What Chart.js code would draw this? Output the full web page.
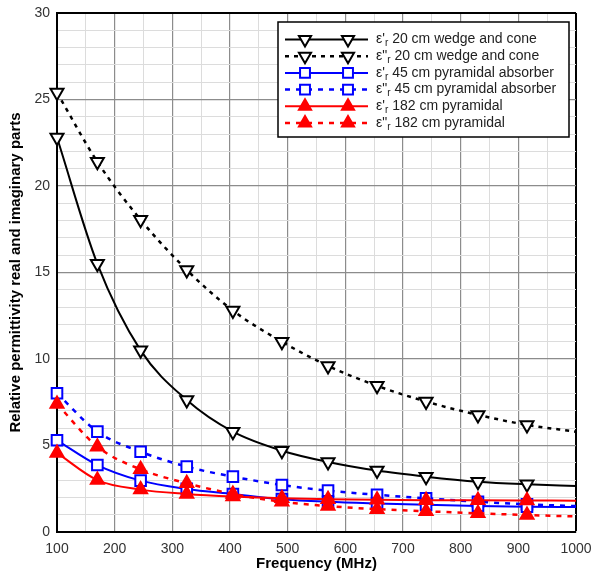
<!DOCTYPE html>
<html>
<head>
<meta charset="utf-8">
<script src="https://cdn.jsdelivr.net/npm/chart.js@4.4.1/dist/chart.umd.min.js"></script>
<style>
  html, body { margin: 0; padding: 0; background: #fff; }
</style>
</head>
<body>
<canvas id="permChart" width="592" height="579"></canvas>
<script>
// frequencies (MHz) of the markers, plus the end of the fitted curves
const freqs = [100, 170, 245, 325, 405, 490, 570, 655, 740, 830, 915, 1000];

const epsRealWedge   = [22.8, 15.5, 10.5, 7.63, 5.8, 4.7, 4.05, 3.55, 3.2, 2.91, 2.76, 2.66];
const epsImagWedge   = [25.4, 21.4, 18.05, 15.15, 12.8, 11.0, 9.6, 8.45, 7.54, 6.77, 6.19, 5.8];
const epsRealPyr45   = [5.3, 3.87, 2.97, 2.49, 2.2, 1.9, 1.75, 1.65, 1.57, 1.5, 1.46, 1.44];
const epsImagPyr45   = [8.02, 5.8, 4.64, 3.78, 3.2, 2.72, 2.39, 2.15, 1.95, 1.75, 1.6, 1.5];
const epsRealPyr182  = [4.57, 3.0, 2.45, 2.2, 2.05, 1.95, 1.9, 1.86, 1.84, 1.83, 1.82, 1.81];
const epsImagPyr182  = [7.4, 4.93, 3.62, 2.82, 2.2, 1.75, 1.5, 1.32, 1.2, 1.08, 0.98, 0.9];

const xTicks = [100, 200, 300, 400, 500, 600, 700, 800, 900, 1000];
const yTicks = [0, 5, 10, 15, 20, 25, 30];

const FONT = "'Liberation Sans', Arial, sans-serif";

function pts(values) {
  return freqs.map((f, i) => ({ x: f, y: values[i] }));
}
// no marker on the curve end point
const markerSize = r => ctx => (ctx.raw && ctx.raw.x === 1000 ? 0 : r);

function makeSet(label, values, color, dash, style, fill, order) {
  return {
    label: label,
    data: pts(values),
    borderColor: color,
    borderWidth: dash.length ? 2.5 : 2,
    borderDash: dash,
    pointStyle: style,
    pointRotation: style === 'triangle' && fill === '#fff' ? 180 : 0,
    pointRadius: markerSize(7.5),
    pointHoverRadius: markerSize(7.5),
    pointBackgroundColor: fill,
    pointBorderColor: color,
    pointBorderWidth: 2,
    cubicInterpolationMode: 'monotone',
    clip: false,
    order: order
  };
}

const datasets = [
  makeSet(["ε'", ' 20 cm wedge and cone'], epsRealWedge, '#000', [], 'triangle', '#fff', 3),
  makeSet(['ε"', ' 20 cm wedge and cone'], epsImagWedge, '#000', [4, 5], 'triangle', '#fff', 3),
  makeSet(["ε'", ' 45 cm pyramidal absorber'], epsRealPyr45, '#0000ff', [], 'rect', '#fff', 2),
  makeSet(['ε"', ' 45 cm pyramidal absorber'], epsImagPyr45, '#0000ff', [5, 6], 'rect', '#fff', 2),
  makeSet(["ε'", ' 182 cm pyramidal'], epsRealPyr182, '#ff0000', [], 'triangle', '#ff0000', 1),
  makeSet(['ε"', ' 182 cm pyramidal'], epsImagPyr182, '#ff0000', [5, 6], 'triangle', '#ff0000', 1)
];

// ── legend: line sample with two markers, boxed ──
const boxLegend = {
  id: 'boxLegend',
  afterDraw(chart) {
    const ctx = chart.ctx;
    const x0 = 278, y0 = 22, w = 291, h = 115;
    ctx.save();
    ctx.fillStyle = '#fff';
    ctx.fillRect(x0, y0, w, h);
    ctx.strokeStyle = '#000';
    ctx.lineWidth = 1.5;
    ctx.strokeRect(x0, y0, w, h);

    chart.data.datasets.forEach((ds, i) => {
      const y = y0 + 17.5 + i * 16.7;
      ctx.strokeStyle = ds.borderColor;
      ctx.lineWidth = ds.borderWidth;
      ctx.setLineDash(ds.borderDash);
      ctx.beginPath();
      ctx.moveTo(285, y);
      ctx.lineTo(368, y);
      ctx.stroke();
      ctx.setLineDash([]);

      ctx.fillStyle = ds.pointBackgroundColor;
      ctx.strokeStyle = ds.pointBorderColor;
      ctx.lineWidth = ds.pointBorderWidth;
      [305, 348].forEach(px => {
        Chart.helpers.drawPoint(ctx, {
          pointStyle: ds.pointStyle, rotation: ds.pointRotation,
          radius: 7, borderWidth: ds.pointBorderWidth
        }, px, y);
      });

      // ε' / ε" with subscript r
      ctx.fillStyle = '#222';
      ctx.textBaseline = 'middle';
      ctx.textAlign = 'left';
      ctx.font = '14px ' + FONT;
      let tx = 376;
      ctx.fillText(ds.label[0], tx, y);
      tx += ctx.measureText(ds.label[0]).width;
      ctx.font = '10px ' + FONT;
      ctx.fillText('r', tx, y + 4);
      tx += ctx.measureText('r').width;
      ctx.font = '14px ' + FONT;
      ctx.fillText(ds.label[1], tx, y);
    });
    ctx.restore();
  }
};

const majorGrid = '#8c8c8c';
const minorGrid = '#dcdcdc';

new Chart(document.getElementById('permChart'), {
  type: 'line',
  data: { datasets: datasets },
  plugins: [boxLegend],
  options: {
    responsive: false,
    animation: false,
    layout: { padding: { top: 13, right: 16, left: 0, bottom: 0 } },
    plugins: {
      legend: { display: false },
      tooltip: { enabled: false }
    },
    scales: {
      x: {
        type: 'linear',
        min: 100,
        max: 1000,
        afterFit: s => { s.height = 47; s.paddingRight = 0; s.paddingLeft = 0; },
        border: { color: '#000', width: 2 },
        grid: {
          drawTicks: false,
          color: c => c.tick.value === 1000 ? '#000' : (xTicks.includes(c.tick.value) ? majorGrid : minorGrid),
          lineWidth: c => c.tick.value === 1000 ? 2 : (xTicks.includes(c.tick.value) ? 1.2 : 1)
        },
        ticks: {
          stepSize: 50,
          autoSkip: false,
          maxRotation: 0,
          padding: 9,
          color: '#333',
          font: { family: FONT, size: 14 },
          callback: v => xTicks.includes(v) ? String(v) : ''
        },
        title: {
          display: true,
          text: 'Frequency (MHz)',
          color: '#000',
          font: { family: FONT, size: 15, weight: 'bold' },
          padding: { top: 0, bottom: 6 }
        }
      },
      y: {
        min: 0,
        max: 30,
        afterFit: s => { s.width = 57; s.paddingTop = 0; s.paddingBottom = 0; },
        border: { color: '#000', width: 2 },
        grid: {
          drawTicks: false,
          color: c => c.tick.value === 30 ? '#000' : (yTicks.includes(c.tick.value) ? majorGrid : minorGrid),
          lineWidth: c => c.tick.value === 30 ? 2 : (yTicks.includes(c.tick.value) ? 1.2 : 1)
        },
        ticks: {
          stepSize: 1,
          autoSkip: false,
          padding: 7,
          color: '#333',
          font: { family: FONT, size: 14 },
          callback: v => yTicks.includes(v) ? String(v) : ''
        },
        title: {
          display: true,
          text: 'Relative permittivity real and imaginary parts',
          color: '#000',
          font: { family: FONT, size: 15, weight: 'bold' },
          padding: { top: 7, bottom: 0 }
        }
      }
    }
  }
});
</script>
</body>
</html>
